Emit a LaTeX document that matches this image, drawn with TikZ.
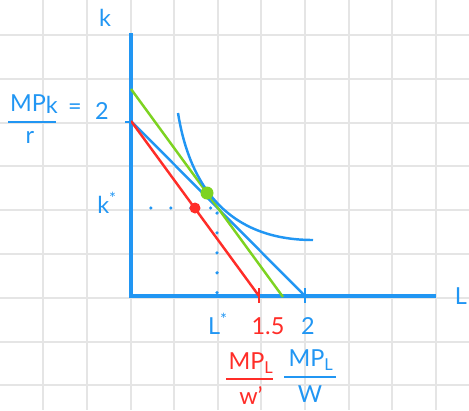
\documentclass[tikz,border=0pt]{standalone}
\usepackage{fontspec}
\setmainfont{Lato}
\usetikzlibrary{positioning, calc}

\definecolor{penblue}{RGB}{33,150,243}
\definecolor{penred}{RGB}{255,45,40}
\definecolor{pengreen}{RGB}{125,211,33}
\definecolor{gridgray}{RGB}{229,229,229}

\begin{document}
\begin{tikzpicture}[
  x=0.03cm, y=-0.03cm,
  gridline/.style = {gridgray, line width=1.6pt},
  axis/.style     = {penblue, line width=2.6pt},
  budget/.style   = {line width=2.1pt},
  tick/.style     = {line width=2.1pt},
  fracbar/.style  = {line width=2.1pt},
  dotline/.style  = {penblue, line width=3pt, line cap=round, dash pattern=on 0pt off 17pt},
  lbl/.style      = {font=\fontsize{20}{24}\selectfont, inner sep=0pt},
]
  \useasboundingbox (0,0) rectangle (469,410);

  % squared paper
  \foreach \gx in {1,...,10}
    \draw[gridline] (43.6*\gx-0.2,0) -- (43.6*\gx-0.2,410);
  \foreach \gy in {0,...,8}
    \draw[gridline] (0,35+43.8*\gy) -- (469,35+43.8*\gy);

  \coordinate (O)    at (131,296);
  \coordinate (ktop) at (131,33);
  \coordinate (Lend) at (436,296);

  \coordinate (K2)   at (131,121);
  \coordinate (Kg)   at (131,89);
  \coordinate (L2)   at (305,296);
  \coordinate (L15)  at (259,296);
  \coordinate (Lg)   at (283,297);

  \coordinate (Eg)   at (207,193);
  \coordinate (Er)   at (195,208);
  \coordinate (Estar) at (217,208);

  \draw[axis] (ktop) -- (O) -- (Lend);

  % budget lines
  \draw[budget, penblue]  (K2) -- (L2);
  \draw[budget, penred]   (K2) -- (L15);
  \draw[budget, pengreen] (Kg) -- (Lg);

  % isoquant
  \draw[budget, penblue] (178,113) .. controls (192,200) and (240,240) .. (313,240);

  \draw[tick, penblue] ($(K2)+(-6,1)$) -- ($(K2)+(0,1)$);
  \draw[tick, penblue] ($(L2)+(0,-8)$) -- ($(L2)+(0,7)$);
  \draw[tick, penred]  ($(L15)+(0,-8)$) -- ($(L15)+(0,7)$);

  \draw[dotline] (O |- Estar) -- ($(Estar)+(-5,0)$);
  \draw[dotline] ($(Estar)+(0,5)$) -- (Estar |- O);

  \fill[pengreen] (Eg) circle (6.5);
  \fill[penred]   (Er) circle (5.5);

  % axis labels
  \node[lbl, penblue] (klab) at (105,18)  {k};
  \node[lbl, penblue] (Llab) at (461,296) {L};
  \node[lbl, penblue] (kst)  at (107,203) {k\textsuperscript{*}};
  \node[lbl, penblue] (Lst)  at (218,324) {L\textsuperscript{*}};
  \node[lbl, penred]  (t15)  at (268,326) {1.5};
  \node[lbl, penblue] (t2)   at (308,326) {2};

  % MPk / r = 2
  \node[lbl, penblue] (mpk)  at (34,104) {MP\raisebox{-2pt}{k}};
  \node[lbl, penblue] (rden) at (30,137) {r};
  \draw[fracbar, penblue] (8,122) -- (56,122);
  \node[lbl, penblue] (eq)   at (75,109)  {=};
  \node[lbl, penblue] (two)  at (102,111) {2};

  % MPL / w'  and  MPL / W
  \node[lbl, penred]  (mplr) at (251,363) {MP\textsubscript{L}};
  \node[lbl, penred]  (wr)   at (251,396) {w'};
  \draw[fracbar, penred] (226,379) -- (273,379);
  \node[lbl, penblue] (mplb) at (311,360) {MP\textsubscript{L}};
  \node[lbl, penblue] (wb)   at (310,394) {W};
  \draw[fracbar, penblue] (284,377) -- (336,377);
\end{tikzpicture}
\end{document}
